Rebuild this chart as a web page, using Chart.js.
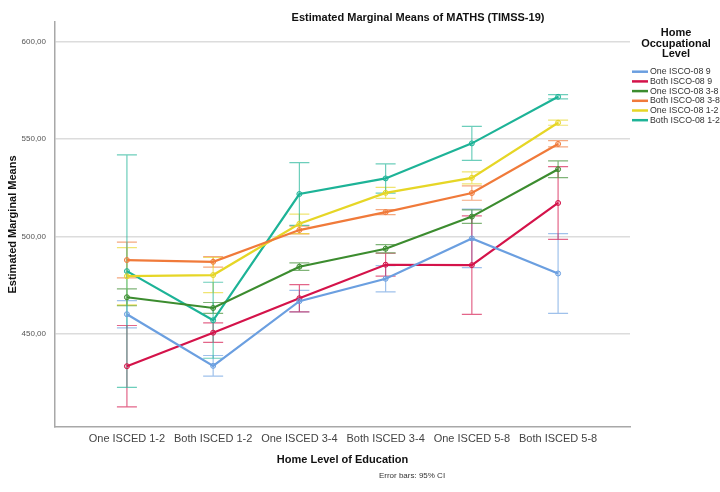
<!DOCTYPE html>
<html>
<head>
<meta charset="utf-8">
<script src="https://cdn.jsdelivr.net/npm/chart.js@4.4.0/dist/chart.umd.min.js"></script>
<style>
  html, body { margin: 0; padding: 0; background: #ffffff; }
</style>
</head>
<body>
<canvas id="emmChart" width="720" height="492"></canvas>
<script>
//---------------------------------------------------------------------//
//-----------------------------DATA ZONE-------------------------------//
//---------------------------------------------------------------------//
const educationLevels = ['One ISCED 1-2', 'Both ISCED 1-2', 'One ISCED 3-4', 'Both ISCED 3-4', 'One ISCED 5-8', 'Both ISCED 5-8'];
const occupationLevels = ['One ISCO-08 9', 'Both ISCO-08 9', 'One ISCO-08 3-8', 'Both ISCO-08 3-8', 'One ISCO-08 1-2', 'Both ISCO-08 1-2'];
const yTicks = [450, 500, 550, 600];

// estimated marginal means + 95% CI bounds, one set per occupational level
const meanOne9 = [460.1, 433.6, 466.8, 478.3, 499.0, 481.0];
const lowOne9 = [453.1, 428.3, 461.3, 471.6, 484.0, 460.5];
const highOne9 = [467.1, 438.9, 472.3, 485.0, 514.0, 501.5];

const meanBoth9 = [433.4, 450.6, 468.3, 485.5, 485.3, 517.2];
const lowBoth9 = [412.5, 445.6, 461.3, 479.6, 460.0, 498.5];
const highBoth9 = [454.3, 455.6, 475.3, 491.4, 510.6, 535.9];

const meanOne38 = [468.8, 463.3, 484.5, 493.7, 510.2, 534.5];
const lowOne38 = [464.5, 460.5, 482.6, 491.6, 506.7, 530.2];
const highOne38 = [473.1, 466.1, 486.4, 495.8, 513.7, 538.8];

const meanBoth38 = [487.9, 487.0, 503.3, 512.5, 522.3, 547.5];
const lowBoth38 = [478.7, 484.3, 501.3, 511.2, 518.6, 546.0];
const highBoth38 = [497.1, 489.7, 505.3, 513.8, 526.0, 549.2];

const meanOne12 = [479.6, 480.2, 506.5, 522.4, 530.1, 558.4];
const lowOne12 = [464.9, 471.2, 501.5, 519.6, 527.0, 557.1];
const highOne12 = [494.3, 489.2, 511.5, 525.2, 533.2, 559.7];

const meanBoth12 = [482.2, 457.0, 521.8, 529.8, 547.8, 571.7];
const lowBoth12 = [422.5, 437.5, 505.7, 522.3, 539.1, 570.6];
const highBoth12 = [541.9, 476.5, 537.9, 537.3, 556.5, 572.8];

const seriesColors = ['107,159,224', '212,19,74', '60,140,47', '240,122,58', '230,214,38', '29,179,151'];

//---------------------------------------------------------------------//
//----------------------------PLUGINS ZONE-----------------------------//
//---------------------------------------------------------------------//
const FONT = "'Liberation Sans', Arial, sans-serif";

// vertical CI whiskers with caps, drawn under the lines
const errorBarPlugin = {
    id: 'errorBars',
    beforeDatasetsDraw(chart) {
        const { ctx, scales: { x, y } } = chart;
        ctx.save();
        ctx.lineWidth = 1.2;
        chart.data.datasets.forEach(ds => {
            ctx.strokeStyle = ds.errorColor;
            ds.ciLow.forEach((lo, i) => {
                const px = x.getPixelForValue(i);
                const yLo = y.getPixelForValue(lo);
                const yHi = y.getPixelForValue(ds.ciHigh[i]);
                ctx.beginPath();
                ctx.moveTo(px, yLo); ctx.lineTo(px, yHi);
                ctx.moveTo(px - 10, yLo); ctx.lineTo(px + 10, yLo);
                ctx.moveTo(px - 10, yHi); ctx.lineTo(px + 10, yHi);
                ctx.stroke();
            });
        });
        ctx.restore();
    }
};

// title, legend block on the right and the footnote
const decorPlugin = {
    id: 'decor',
    afterDraw(chart) {
        const ctx = chart.ctx;
        ctx.save();
        ctx.textBaseline = 'middle';

        ctx.fillStyle = '#111';
        ctx.textAlign = 'center';
        ctx.font = 'bold 11px ' + FONT;
        ctx.fillText('Estimated Marginal Means of MATHS (TIMSS-19)', 418, 18);

        // legend title
        ['Home', 'Occupational', 'Level'].forEach((t, i) => ctx.fillText(t, 676, 33 + i * 10.5));

        // legend entries
        ctx.textAlign = 'left';
        ctx.font = '8.8px ' + FONT;
        chart.data.datasets.forEach((ds, i) => {
            const ly = 71.7 + i * 9.7;
            ctx.strokeStyle = ds.borderColor;
            ctx.lineWidth = 2.5;
            ctx.beginPath();
            ctx.moveTo(632, ly);
            ctx.lineTo(648, ly);
            ctx.stroke();
            ctx.fillStyle = '#333';
            ctx.fillText(ds.label, 650, ly);
        });

        ctx.textAlign = 'center';
        ctx.font = '8px ' + FONT;
        ctx.fillStyle = '#333';
        ctx.fillText('Error bars: 95% CI', 412, 476);
        ctx.restore();
    }
};

//---------------------------------------------------------------------//
//-----------------------------CHART ZONE------------------------------//
//---------------------------------------------------------------------//
function buildSeries(label, color, means, lows, highs) {
    return {
        label: label,
        data: means.map((v, i) => ({ x: i, y: v })),
        ciLow: lows,
        ciHigh: highs,
        borderColor: `rgb(${color})`,
        errorColor: `rgba(${color},0.65)`,
        backgroundColor: `rgba(${color},0.35)`,
        pointBackgroundColor: `rgba(${color},0.25)`,
        pointBorderColor: `rgb(${color})`,
        pointRadius: 2.5,
        pointBorderWidth: 1,
        borderWidth: 2.2,
        tension: 0,
        fill: false
    };
}

const datasets = [
    buildSeries(occupationLevels[0], seriesColors[0], meanOne9, lowOne9, highOne9),
    buildSeries(occupationLevels[1], seriesColors[1], meanBoth9, lowBoth9, highBoth9),
    buildSeries(occupationLevels[2], seriesColors[2], meanOne38, lowOne38, highOne38),
    buildSeries(occupationLevels[3], seriesColors[3], meanBoth38, lowBoth38, highBoth38),
    buildSeries(occupationLevels[4], seriesColors[4], meanOne12, lowOne12, highOne12),
    buildSeries(occupationLevels[5], seriesColors[5], meanBoth12, lowBoth12, highBoth12)
];

Chart.defaults.font.family = FONT;

new Chart(document.getElementById('emmChart').getContext('2d'), {
    type: 'line',
    data: { datasets: datasets },
    options: {
        responsive: false,
        animation: false,
        devicePixelRatio: 1,
        layout: { padding: { left: 0, top: 22, right: 90, bottom: 15 } },
        plugins: {
            legend: { display: false },
            title: { display: false },
            tooltip: { enabled: false }
        },
        scales: {
            x: {
                type: 'linear',
                min: -0.834,
                max: 5.834,
                afterBuildTicks: scale => { scale.ticks = educationLevels.map((_, i) => ({ value: i })); },
                afterFit: scale => { scale.height = 50; },
                ticks: {
                    callback: v => educationLevels[v],
                    font: { size: 11 },
                    color: '#444',
                    padding: 5,
                    maxRotation: 0,
                    autoSkip: false
                },
                grid: { display: false, drawTicks: false },
                border: { display: true, color: '#a8a8a8', width: 1.5 },
                title: {
                    display: true,
                    text: 'Home Level of Education',
                    font: { size: 11, weight: 'bold' },
                    color: '#111',
                    padding: { top: 4, bottom: 10 }
                }
            },
            y: {
                min: 402.2,
                max: 610.1,
                afterBuildTicks: scale => { scale.ticks = yTicks.map(v => ({ value: v })); },
                afterFit: scale => { scale.width = 55; },
                ticks: {
                    callback: v => v.toFixed(2).replace('.', ','),
                    font: { size: 8 },
                    color: '#555',
                    padding: 9
                },
                grid: { color: '#dcdcdc', lineWidth: 1.5, drawTicks: false },
                border: { display: true, color: '#a8a8a8', width: 1.5 },
                title: {
                    display: true,
                    text: 'Estimated Marginal Means',
                    font: { size: 11, weight: 'bold' },
                    color: '#111',
                    padding: { top: 6, bottom: 0 }
                }
            }
        }
    },
    plugins: [errorBarPlugin, decorPlugin]
});
</script>
</body>
</html>
